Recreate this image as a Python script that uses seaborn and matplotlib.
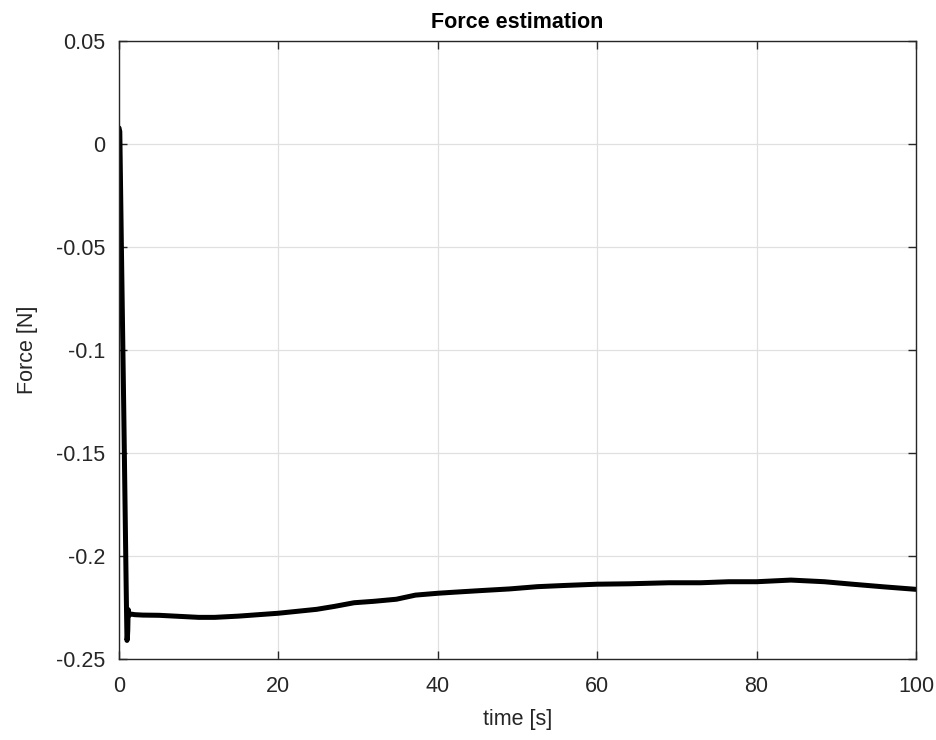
import matplotlib
matplotlib.use("Agg")
import matplotlib.pyplot as plt
import seaborn as sns
import pandas as pd

# Estimated force over time
time_s = [0.0, 0.1, 0.3, 0.6, 0.9, 1.0, 1.05, 1.1, 1.15, 1.2, 1.3, 1.5, 2.0, 3.0,
          5.0, 7.0, 10.0, 12.0, 15.0, 20.0, 24.8, 27.0, 29.5, 32.0, 34.8, 37.2,
          40.0, 42.0, 45.4, 49.0, 52.5, 56.0, 60.0, 64.0, 69.0, 73.0, 76.5,
          80.0, 84.3, 88.5, 92.0, 96.0, 100.0]
force_n = [0.0078, 0.006, -0.05, -0.13, -0.215, -0.241, -0.240, -0.236, -0.226,
           -0.229, -0.2285, -0.2282, -0.2285, -0.2287, -0.2288, -0.2292, -0.2298,
           -0.2298, -0.2292, -0.2278, -0.2259, -0.2245, -0.2227, -0.2220, -0.2210,
           -0.2190, -0.2181, -0.2176, -0.2168, -0.2160, -0.2149, -0.2143, -0.2137,
           -0.2135, -0.2130, -0.2130, -0.2125, -0.2125, -0.2117, -0.2125, -0.2137,
           -0.2150, -0.2162]

x_ticks = [0, 20, 40, 60, 80, 100]
y_ticks = [-0.25, -0.2, -0.15, -0.1, -0.05, 0, 0.05]
y_tick_labels = ["-0.25", "-0.2", "-0.15", "-0.1", "-0.05", "0", "0.05"]

df = pd.DataFrame({"time": time_s, "force": force_n})

sns.set_theme(style="white")
plt.rcParams["font.family"] = ["Liberation Sans", "DejaVu Sans"]
plt.rcParams["axes.unicode_minus"] = False

fig = plt.figure(figsize=(9.37, 7.4), dpi=100)
ax = fig.add_axes([0.127, 0.1095, 0.8506, 0.8351])

sns.lineplot(data=df, x="time", y="force", ax=ax, color="black",
             linewidth=3.6, sort=False, estimator=None)

ax.set_xlim(0, 100)
ax.set_ylim(-0.25, 0.05)
ax.set_xticks(x_ticks)
ax.set_xticklabels([str(t) for t in x_ticks])
ax.set_yticks(y_ticks)
ax.set_yticklabels(y_tick_labels)

text_color = "#262626"
ax.grid(True, color="#e0e0e0", linewidth=0.9)
ax.set_axisbelow(True)
for s in ax.spines.values():
    s.set_color(text_color)
    s.set_linewidth(1.0)
ax.tick_params(direction="in", length=6, width=1.0, color=text_color,
               labelsize=15.5, labelcolor=text_color, top=True, right=True,
               bottom=True, left=True)
ax.tick_params(axis="y", pad=10)
ax.tick_params(axis="x", pad=12)

ax.set_xlabel("time [s]", fontsize=15.5, color=text_color, labelpad=9)
ax.set_ylabel("Force [N]", fontsize=15.5, color=text_color, labelpad=13)
ax.set_title("Force estimation", fontsize=15.5, fontweight="bold",
             color="black", pad=9)

fig.savefig("out.png", dpi=100, facecolor="white")
